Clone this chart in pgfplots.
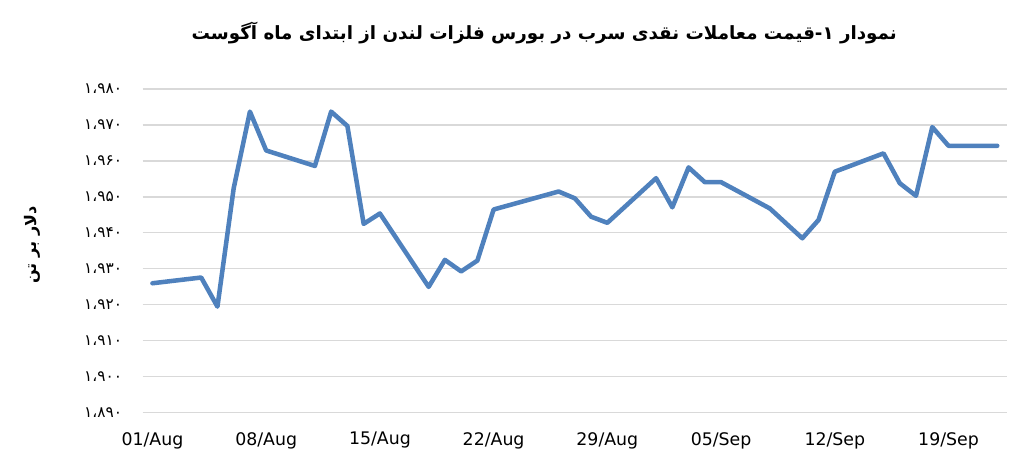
\documentclass[border=0pt]{standalone}
\usepackage{pgfplots}
\pgfplotsset{compat=1.18}
\usepackage{fontspec}
\setmainfont{DejaVu Sans}
\newfontfamily\fa[Script=Arabic]{DejaVu Sans}
\TeXXeTstate=1
\definecolor{leadblue}{HTML}{4F81BD}
\definecolor{gridgray}{HTML}{D9D9D9}
\begin{document}
\begin{tikzpicture}
\useasboundingbox (-107pt,-44.5pt) rectangle (659.25pt,309.5pt);
\begin{axis}[
  scale only axis,
  width=648pt, height=242.8pt,
  xmin=-0.6, xmax=52.6,
  ymin=1890, ymax=1980,
  axis line style={draw=none},
  major tick length=0pt,
  ymajorgrids,
  grid style={gridgray, line width=0.9pt},
  xtick={0,7,14,21,28,35,42,49},
  xticklabels={01/Aug,08/Aug,15/Aug,22/Aug,29/Aug,05/Sep,12/Sep,19/Sep},
  xticklabel style={font=\fontsize{13}{15}\selectfont, yshift=-11pt},
  ytick={1890,1900,...,1980},
  yticklabels={۱،۸۹۰,۱،۹۰۰,۱،۹۱۰,۱،۹۲۰,۱،۹۳۰,۱،۹۴۰,۱،۹۵۰,۱،۹۶۰,۱،۹۷۰,۱،۹۸۰},
  yticklabel style={font=\fa\fontsize{11.5}{13}\selectfont, xshift=-12pt},
]
\addplot[leadblue, line width=3.4pt, line join=round, line cap=round] coordinates {
  (0,1926.0) (3,1927.6) (4,1919.5) (5,1952.4) (6,1973.7) (7,1962.9)
  (10,1958.6) (11,1973.7) (12,1969.7) (13,1942.5) (14,1945.4)
  (17,1925.0) (18,1932.5) (19,1929.3) (20,1932.3) (21,1946.5)
  (25,1951.5) (26,1949.6) (27,1944.5) (28,1942.8)
  (31,1955.2) (32,1947.1) (33,1958.2) (34,1954.1) (35,1954.1)
  (38,1946.8) (40,1938.5) (41,1943.6) (42,1957.0)
  (45,1962.1) (46,1953.8) (47,1950.3) (48,1969.4) (49,1964.2) (52,1964.2)
};
\end{axis}
\node[font=\fa\bfseries\fontsize{13.7}{16}\selectfont] at (301pt,284.8pt)
  {\beginR نمودار ۱-قیمت معاملات نقدی سرب در بورس فلزات لندن از ابتدای ماه آگوست\endR};
\node[rotate=90, font=\fa\bfseries\fontsize{12}{14}\selectfont] at (-83pt,125.8pt)
  {\beginR دلار بر تن\endR};
\end{tikzpicture}
\end{document}
